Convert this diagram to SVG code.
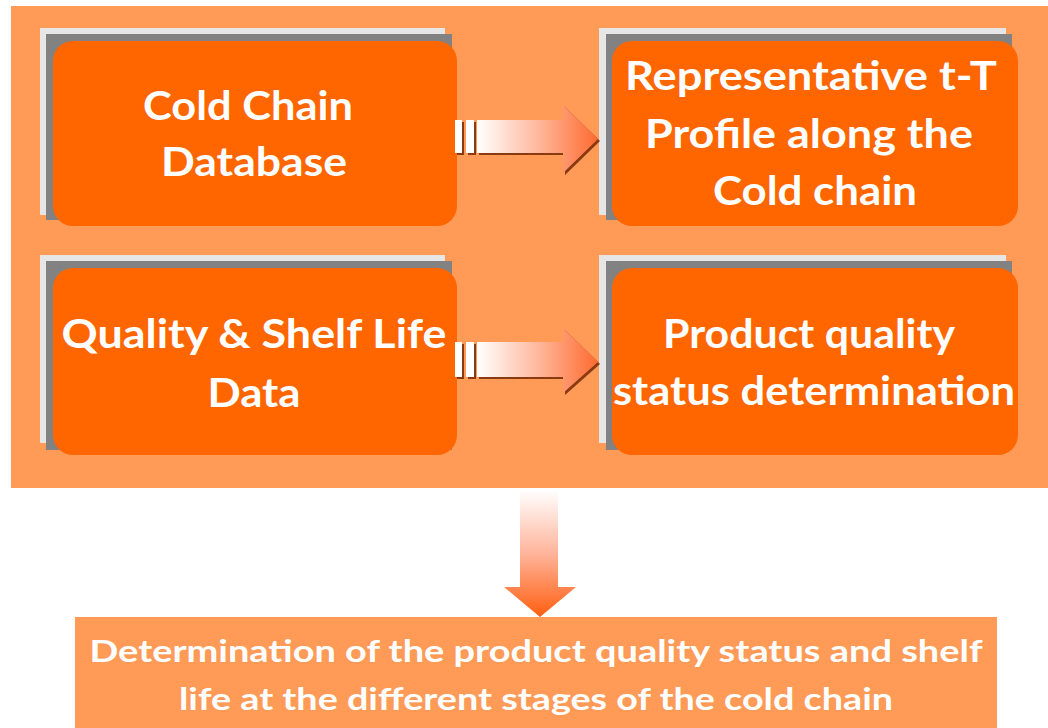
<svg xmlns="http://www.w3.org/2000/svg" width="1048" height="728" viewBox="0 0 1048 728">
  <style>
    .panel { fill: #FF9A57; }
    .back { fill: #E6E6E6; }
    .mid { fill: #828282; }
    .face { fill: #FF6600; }
    .lbl { font-family: Lato, "Open Sans", "Liberation Sans", sans-serif; font-weight: 700; font-size: 40px; fill: #FFFFFF; text-anchor: middle; }
    .lbl-s { font-family: Lato, "Open Sans", "Liberation Sans", sans-serif; font-weight: 700; font-size: 31px; fill: #FFFFFF; text-anchor: middle; }
    .bar { fill: #FFFFFF; }
    .shade { fill: #8A3A10; }
  </style>
  <defs>
    <linearGradient id="gradRight" x1="0" y1="0" x2="1" y2="0">
      <stop offset="0" stop-color="#FFFFFF"/>
      <stop offset="0.45" stop-color="#FFC0A8"/>
      <stop offset="1" stop-color="#FF6A30"/>
    </linearGradient>
    <linearGradient id="gradDown" x1="0" y1="0" x2="0" y2="1">
      <stop offset="0" stop-color="#FFFFFF"/>
      <stop offset="0.5" stop-color="#FFB49A"/>
      <stop offset="1" stop-color="#FF5E10"/>
    </linearGradient>
  </defs>

  <!-- white page -->
  <rect x="0" y="0" width="1048" height="728" fill="#FFFFFF"/>

  <!-- light orange frame holding the four input/output blocks -->
  <rect class="panel" x="11" y="6" width="1037" height="482"/>

  <g id="node-cold-chain-database">
    <rect class="back" x="40" y="28" width="405" height="187"/>
    <rect class="mid" x="46" y="34" width="406" height="186"/>
    <rect class="face" x="53" y="41" width="404" height="185" rx="20" ry="20"/>
    <text class="lbl" x="248" y="120" textLength="210" lengthAdjust="spacingAndGlyphs">Cold Chain</text>
    <text class="lbl" x="254" y="176" textLength="186" lengthAdjust="spacingAndGlyphs">Database</text>
  </g>

  <g id="node-tt-profile">
    <rect class="back" x="599" y="28" width="407" height="187"/>
    <rect class="mid" x="606" y="34" width="406" height="186"/>
    <rect class="face" x="612" y="41" width="406" height="185" rx="20" ry="20"/>
    <text class="lbl" x="811" y="90" textLength="372" lengthAdjust="spacingAndGlyphs">Representative t-T</text>
    <text class="lbl" x="809" y="148" textLength="328" lengthAdjust="spacingAndGlyphs">Profile along the</text>
    <text class="lbl" x="815" y="205" textLength="204" lengthAdjust="spacingAndGlyphs">Cold chain</text>
  </g>

  <g id="node-quality-shelf-life">
    <rect class="back" x="40" y="255" width="405" height="188"/>
    <rect class="mid" x="46" y="261" width="406" height="189"/>
    <rect class="face" x="53" y="268" width="404" height="187" rx="20" ry="20"/>
    <text class="lbl" x="254" y="348" textLength="385" lengthAdjust="spacingAndGlyphs">Quality &amp; Shelf Life</text>
    <text class="lbl" x="254" y="407" textLength="93" lengthAdjust="spacingAndGlyphs">Data</text>
  </g>

  <g id="node-quality-status">
    <rect class="back" x="599" y="255" width="407" height="188"/>
    <rect class="mid" x="606" y="261" width="406" height="189"/>
    <rect class="face" x="612" y="268" width="406" height="187" rx="20" ry="20"/>
    <text class="lbl" x="809" y="348" textLength="292" lengthAdjust="spacingAndGlyphs">Product quality</text>
    <text class="lbl" x="814" y="405" textLength="402" lengthAdjust="spacingAndGlyphs">status determination</text>
  </g>

  <g id="node-result">
    <rect class="panel" x="75" y="617" width="922" height="111"/>
    <text class="lbl-s" x="536" y="662" textLength="893" lengthAdjust="spacingAndGlyphs">Determination of the product quality status and shelf</text>
    <text class="lbl-s" x="536" y="710" textLength="714" lengthAdjust="spacingAndGlyphs">life at the different stages of the cold chain</text>
  </g>

  <g id="connectors">
    <!-- database to t-T profile -->
    <g id="arrow-top">
      <rect class="shade" x="457" y="122" width="7" height="33"/>
      <rect class="shade" x="468" y="122" width="8" height="33"/>
      <path class="shade" d="M479,122 H565 V107 L600,141 L565,175 V155 H479 Z"/>
      <rect class="bar" x="455" y="120" width="7" height="33"/>
      <rect class="bar" x="466" y="120" width="8" height="33"/>
      <path d="M477,120 H563 V105 L598,139 L563,173 V153 H477 Z" fill="url(#gradRight)"/>
    </g>
    <!-- shelf life data to quality status -->
    <g id="arrow-bottom">
      <rect class="shade" x="457" y="344" width="7" height="35"/>
      <rect class="shade" x="468" y="344" width="8" height="35"/>
      <path class="shade" d="M479,344 H565 V330 L600,364 L565,395 V379 H479 Z"/>
      <rect class="bar" x="455" y="342" width="7" height="35"/>
      <rect class="bar" x="466" y="342" width="8" height="35"/>
      <path d="M477,342 H563 V328 L598,362 L563,393 V377 H477 Z" fill="url(#gradRight)"/>
    </g>
    <!-- frame to final result -->
    <path id="arrow-down" d="M520,490 H558 V587 H576 L540,617 L504,587 H520 Z" fill="url(#gradDown)"/>
  </g>
</svg>
